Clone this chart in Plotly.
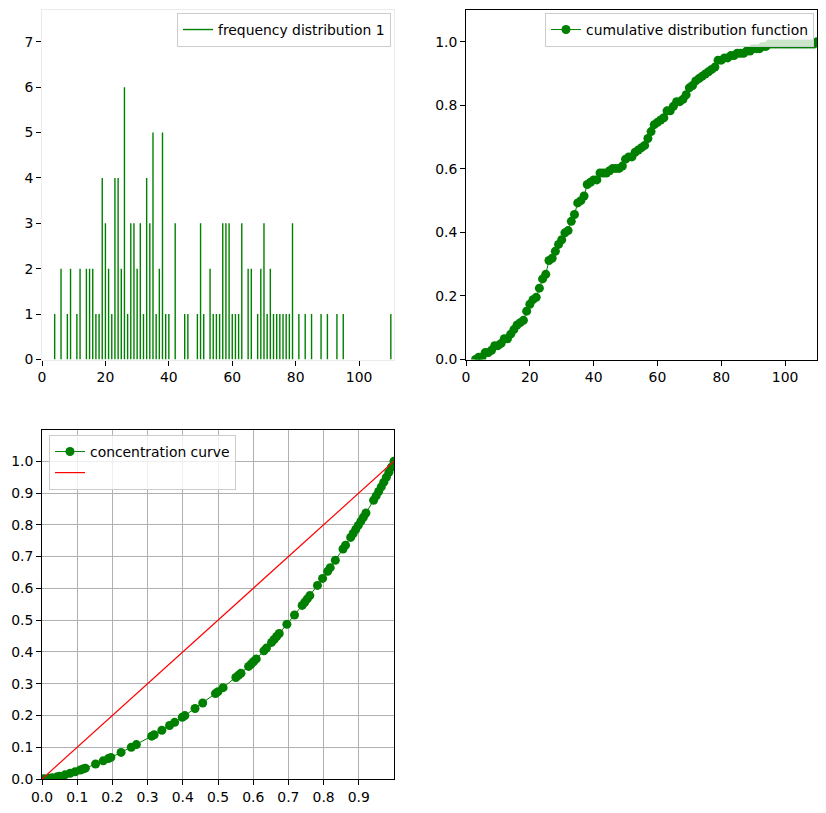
import numpy as np
import plotly.graph_objects as go

# ---- data ----
values = [4, 6, 8, 9, 11, 12, 14, 15, 16, 17, 18, 19, 20, 21, 22, 23, 24, 25, 26, 27,
          28, 29, 30, 31, 32, 33, 34, 35, 36, 37, 38, 39, 40, 42, 45, 46, 49, 50, 51, 53,
          54, 55, 56, 57, 58, 59, 60, 61, 62, 63, 65, 66, 68, 69, 70, 71, 72, 73, 74, 75,
          76, 77, 78, 79, 81, 83, 85, 88, 90, 93, 95, 110]
counts = [1, 2, 1, 2, 1, 2, 2, 2, 2, 1, 1, 4, 3, 2, 1, 4, 4, 2, 6, 1,
          3, 3, 2, 3, 1, 4, 3, 5, 1, 2, 5, 1, 1, 3, 1, 1, 1, 3, 1, 2,
          1, 1, 1, 3, 3, 3, 1, 1, 1, 3, 2, 2, 1, 2, 3, 1, 2, 1, 1, 1,
          1, 1, 1, 3, 1, 1, 1, 1, 1, 1, 1, 1]

freq_ticks = [0, 20, 40, 60, 80, 100]
freq_yticks = [0, 1, 2, 3, 4, 5, 6, 7]
cdf_yticks = [0.0, 0.2, 0.4, 0.6, 0.8, 1.0]
conc_xticks = [0.0, 0.1, 0.2, 0.3, 0.4, 0.5, 0.6, 0.7, 0.8, 0.9]
conc_yticks = [0.0, 0.1, 0.2, 0.3, 0.4, 0.5, 0.6, 0.7, 0.8, 0.9, 1.0]

# ---- derived series ----
v = np.array(values)
c = np.array(counts)
n = c.sum()

# vertical lines of the frequency distribution
vx, vy = [], []
for xv, cv in zip(values, counts):
    vx += [xv, xv, None]
    vy += [0, cv, None]

# cumulative distribution over integer positions
grid = np.arange(v.min() - 1, v.max() + 1)
cdf = np.array([c[v <= g].sum() for g in grid]) / n

# concentration (Lorenz) curve
lx = np.concatenate([[0.0], np.cumsum(c) / n])
ly = np.concatenate([[0.0], np.cumsum(v * c) / (v * c).sum()])

W, H = 826, 813
FONT = "DejaVu Sans"
FS = 13.9
GREEN = "#008000"

fig = go.Figure()
fig.add_trace(go.Scatter(x=vx, y=vy, mode="lines", line=dict(color=GREEN, width=1.4),
                         name="frequency distribution 1", xaxis="x", yaxis="y",
                         legend="legend", showlegend=True))
fig.add_trace(go.Scatter(x=grid, y=cdf, mode="lines+markers",
                         line=dict(color=GREEN, width=1),
                         marker=dict(color=GREEN, size=9),
                         name="cumulative distribution function", xaxis="x2", yaxis="y2",
                         legend="legend2", showlegend=True))
fig.add_trace(go.Scatter(x=lx, y=ly, mode="lines+markers",
                         line=dict(color=GREEN, width=1),
                         marker=dict(color=GREEN, size=9),
                         name="concentration curve", xaxis="x3", yaxis="y3",
                         legend="legend3", showlegend=True))
fig.add_trace(go.Scatter(x=[0, 1], y=[0, 1], mode="lines",
                         line=dict(color="#ff0000", width=1.2),
                         name="", xaxis="x3", yaxis="y3", legend="legend3",
                         showlegend=True))

def ax(domain, rng, ticks, texts, linecolor="black", grid=False, anchor=None):
    return dict(domain=domain, range=rng, tickvals=ticks, ticktext=texts,
                showline=True, linecolor=linecolor, linewidth=1, mirror=True,
                ticks="outside", ticklen=5, tickwidth=1, tickcolor="black",
                showgrid=grid, gridcolor="#b0b0b0", gridwidth=1,
                zeroline=False, anchor=anchor, automargin=False,
                tickfont=dict(family=FONT, size=FS, color="black"))

x1 = [42 / W, 394 / W]
x2 = [466 / W, 817 / W]
ytop = [1 - 359.5 / H, 1 - 10 / H]
ybot = [1 - 779 / H, 1 - 429.5 / H]

legend_common = dict(bgcolor="rgba(255,255,255,0.8)", bordercolor="#cccccc", borderwidth=1,
                     font=dict(family=FONT, size=FS, color="black"),
                     tracegroupgap=0, itemwidth=30, visible=True)

fig.update_layout(
    width=W, height=H, margin=dict(l=0, r=0, t=0, b=0, autoexpand=False),
    paper_bgcolor="white", plot_bgcolor="white", showlegend=True,
    font=dict(family=FONT, size=FS, color="black"),
    xaxis=ax(x1, [0, 111], freq_ticks, [str(t) for t in freq_ticks], "#ebebeb", anchor="y"),
    yaxis=ax(ytop, [0, 7.7], freq_yticks, [str(t) for t in freq_yticks], "#ebebeb", anchor="x"),
    xaxis2=ax(x2, [0, 110], freq_ticks, [str(t) for t in freq_ticks], anchor="y2"),
    yaxis2=ax(ytop, [0, 1.1], cdf_yticks, [f"{t:.1f}" for t in cdf_yticks], anchor="x2"),
    xaxis3=ax(x1, [0, 1.0], conc_xticks, [f"{t:.1f}" for t in conc_xticks], grid=True, anchor="y3"),
    yaxis3=ax(ybot, [0, 1.1], conc_yticks, [f"{t:.1f}" for t in conc_yticks], grid=True, anchor="x3"),
    legend=dict(x=391 / W, y=1 - 13 / H, xanchor="right", yanchor="top", **legend_common),
    legend2=dict(x=814 / W, y=1 - 13 / H, xanchor="right", yanchor="top", **legend_common),
    legend3=dict(x=49 / W, y=1 - 435 / H, xanchor="left", yanchor="top", **legend_common),
)

fig.write_html("out.html")
